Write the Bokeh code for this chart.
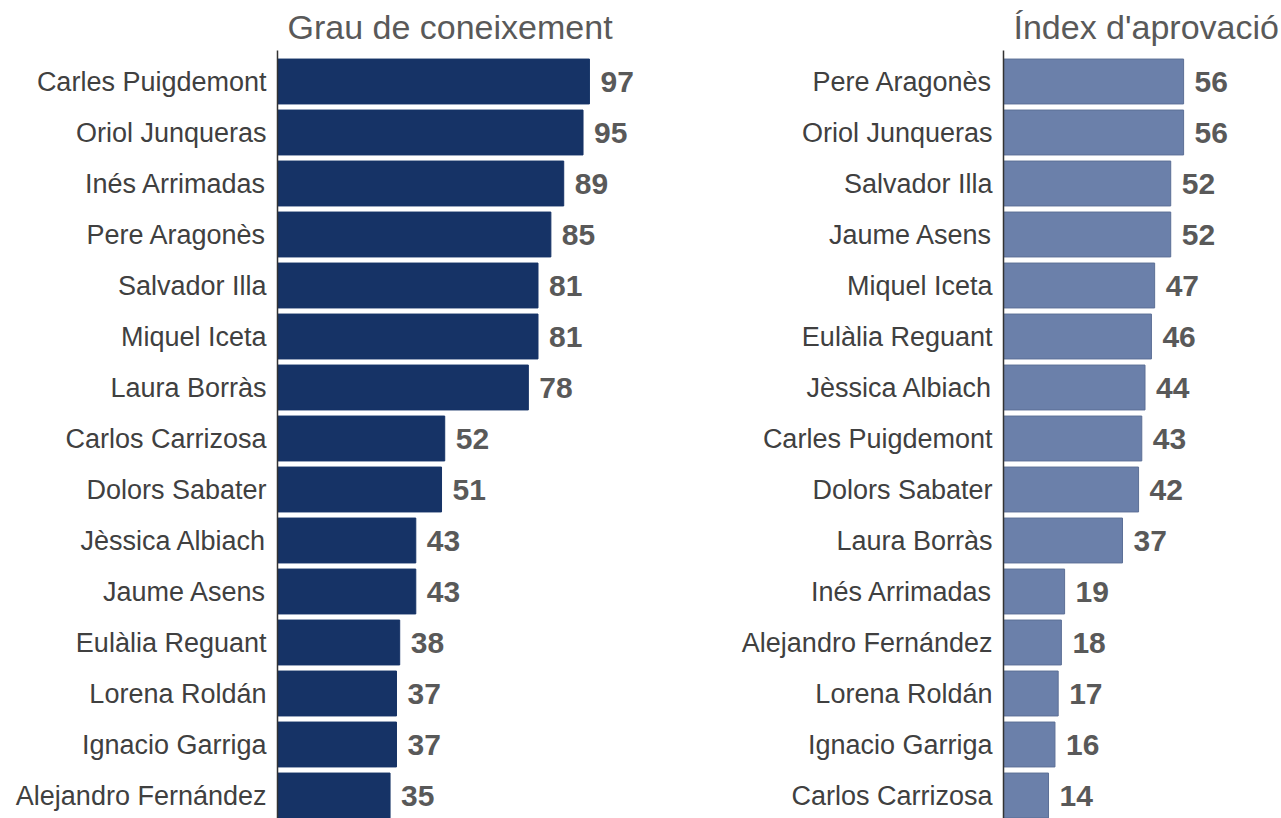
from bokeh.plotting import figure
from bokeh.layouts import row
from bokeh.models import Range1d, FixedTicker, ColumnDataSource
from bokeh.core.properties import value
from bokeh.embed import file_html
from bokeh.resources import INLINE

# Data
names_left = ["Carles Puigdemont", "Oriol Junqueras", "Inés Arrimadas", "Pere Aragonès",
              "Salvador Illa", "Miquel Iceta", "Laura Borràs", "Carlos Carrizosa",
              "Dolors Sabater", "Jèssica Albiach", "Jaume Asens", "Eulàlia Reguant",
              "Lorena Roldán", "Ignacio Garriga", "Alejandro Fernández"]
values_left = [97, 95, 89, 85, 81, 81, 78, 52, 51, 43, 43, 38, 37, 37, 35]

names_right = ["Pere Aragonès", "Oriol Junqueras", "Salvador Illa", "Jaume Asens",
               "Miquel Iceta", "Eulàlia Reguant", "Jèssica Albiach", "Carles Puigdemont",
               "Dolors Sabater", "Laura Borràs", "Inés Arrimadas", "Alejandro Fernández",
               "Lorena Roldán", "Ignacio Garriga", "Carlos Carrizosa"]
values_right = [56, 56, 52, 52, 47, 46, 44, 43, 42, 37, 19, 18, 17, 16, 14]

title_left = "Grau de coneixement"
title_right = "Índex d'aprovació"

FONT = "Liberation Sans"
PX_PER_UNIT = 3.216


def make_panel(names, vals, title, color, line_color, width, x_end):
    n = len(names)
    ys = list(range(n))
    src = ColumnDataSource(dict(y=ys, v=vals, lab=[str(v) for v in vals]))
    p = figure(width=width, height=818, output_backend="svg", toolbar_location=None,
               x_range=Range1d(0, x_end), y_range=Range1d(n - 1 + 23 / 51, -31 / 51),
               min_border_left=277, min_border_right=0, min_border_top=0, min_border_bottom=0)
    p.hbar(y="y", right="v", left=0, height=0.88, source=src, fill_color=color,
           line_color=line_color, line_width=1)
    p.text(x="v", y="y", text="lab", source=src, x_offset=11, text_baseline="middle",
           text_align="left", text_font=value(FONT), text_font_size="30px",
           text_font_style="bold", text_color="#595959")
    p.title.text = title
    p.title.text_font = FONT
    p.title.text_font_size = "34px"
    p.title.text_font_style = "normal"
    p.title.text_color = "#595959"
    p.title.align = "left"
    p.title.offset = 10
    p.title.standoff = 10
    p.xaxis.visible = False
    p.yaxis.ticker = FixedTicker(ticks=ys)
    p.yaxis.major_label_overrides = {i: nm for i, nm in enumerate(names)}
    p.yaxis.major_label_text_font = FONT
    p.yaxis.major_label_text_font_size = "27px"
    p.yaxis.major_label_text_color = "#404040"
    p.yaxis.major_tick_line_color = None
    p.yaxis.minor_tick_line_color = None
    p.yaxis.major_tick_out = 0
    p.yaxis.major_tick_in = 0
    p.yaxis.minor_tick_out = 0
    p.yaxis.major_label_standoff = 11
    p.yaxis.axis_line_color = "#333333"
    p.yaxis.axis_line_width = 1.5
    p.xgrid.visible = False
    p.ygrid.visible = False
    p.outline_line_color = None
    return p


left = make_panel(names_left, values_left, title_left, "#163366", "#163366", 726,
                  (726 - 277) / PX_PER_UNIT)
right = make_panel(names_right, values_right, title_right, "#6b80aa", "#5c6f96", 555,
                   (555 - 277) / PX_PER_UNIT)

layout = row(left, right)
open("out.html", "w").write(file_html(layout, INLINE))
